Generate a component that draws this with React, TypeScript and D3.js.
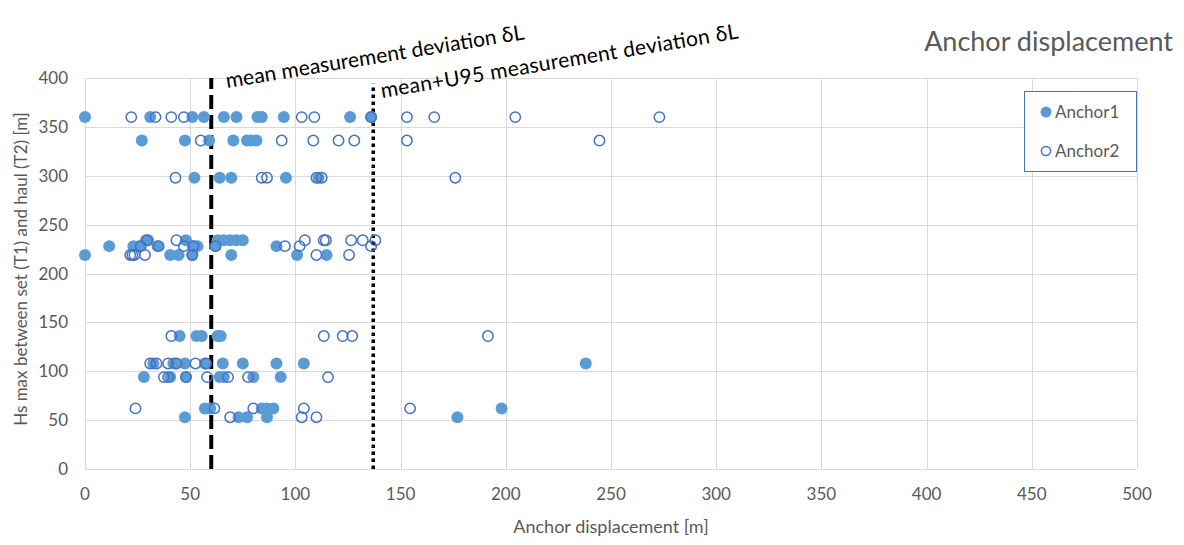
import React, { useEffect, useRef } from 'react';
import * as d3 from 'd3';

// [displacement, Hs max] pairs
const anchor1: [number, number][] = [
  [0, 360], [31, 360], [51, 360], [56.5, 360], [66, 360], [72, 360], [82, 360], [84, 360], [94.5, 360], [126, 360], [136, 360],
  [27, 336], [47.5, 336], [59, 336], [70.5, 336], [77, 336], [79, 336], [81.5, 336],
  [52, 298], [64, 298], [69.5, 298], [95.5, 298], [111, 298],
  [29, 234], [30, 234], [48, 234], [63, 234], [66, 234], [69, 234], [72, 234], [75, 234],
  [11.5, 228], [23, 228], [26, 228], [34.5, 228], [51.5, 228], [53.5, 228], [62, 228], [91, 228],
  [0, 219], [40.5, 219], [44.5, 219], [51, 219], [69.5, 219], [100.8, 219], [114.8, 219],
  [45, 136], [53, 136], [55.5, 136], [63, 136], [64.5, 136],
  [32.5, 108], [42, 108], [43, 108], [47.5, 108], [57, 108], [65.5, 108], [75, 108], [91, 108], [104, 108], [238, 108],
  [28, 94], [40.5, 94], [48, 94], [64, 94], [66, 94], [80, 94], [93, 94],
  [57, 62], [59.5, 62], [84, 62], [86.5, 62], [89.5, 62], [198, 62],
  [47.5, 53], [73, 53], [77, 53], [86.5, 53], [177, 53],
];

const anchor2: [number, number][] = [
  [22, 360], [33.5, 360], [41, 360], [47, 360], [103, 360], [109, 360], [136, 360], [153, 360], [166, 360], [204.5, 360], [273, 360],
  [55, 336], [93.5, 336], [108.5, 336], [120.5, 336], [128, 336], [153, 336], [244.5, 336],
  [43, 298], [84, 298], [86.5, 298], [110, 298], [112.5, 298], [176, 298],
  [29.5, 234], [43.5, 234], [104.5, 234], [113.5, 234], [114.5, 234], [126.5, 234], [132, 234], [138, 234],
  [26.5, 228], [35, 228], [47, 228], [51.5, 228], [62, 228], [95, 228], [102, 228], [136, 228],
  [21.5, 219], [22.5, 219], [23.5, 219], [28.5, 219], [51, 219], [110, 219], [125.5, 219],
  [41, 136], [113.5, 136], [122.5, 136], [127, 136], [191.5, 136],
  [31, 108], [34, 108], [39.5, 108], [43.5, 108], [52.5, 108], [57.5, 108],
  [37.5, 94], [39.5, 94], [48, 94], [58, 94], [68, 94], [77.5, 94], [115.5, 94],
  [24, 62], [61.5, 62], [80, 62], [104, 62], [154.5, 62],
  [69, 53], [103, 53], [110, 53],
];

const xTicks = [0, 50, 100, 150, 200, 250, 300, 350, 400, 450, 500];
const yTicks = [0, 50, 100, 150, 200, 250, 300, 350, 400];

const meanDev = 60;
const meanU95Dev = 137;

const W = 1184;
const H = 545;
const FONT = 'Lato, "Open Sans", sans-serif';
const GREY = '#595959';

export default function App() {
  const ref = useRef<SVGSVGElement>(null);

  useEffect(() => {
    document.body.style.margin = '0';
    if (!ref.current) return;
    const svg = d3.select(ref.current);
    svg.selectAll('*').remove();

    const x = d3.scaleLinear().domain([0, 500]).range([85, 1137]);
    const y = d3.scaleLinear().domain([0, 400]).range([469, 78]);

    // grid
    svg.append('g').selectAll('line').data(yTicks).enter().append('line')
      .attr('x1', x(0)).attr('x2', x(500))
      .attr('y1', d => Math.round(y(d)) + 0.5).attr('y2', d => Math.round(y(d)) + 0.5)
      .attr('stroke', '#D9D9D9').attr('stroke-width', 1);
    svg.append('g').selectAll('line').data(xTicks).enter().append('line')
      .attr('y1', y(0)).attr('y2', y(400))
      .attr('x1', d => Math.round(x(d)) + 0.5).attr('x2', d => Math.round(x(d)) + 0.5)
      .attr('stroke', '#D9D9D9').attr('stroke-width', 1);

    // tick labels
    svg.append('g').selectAll('text').data(xTicks).enter().append('text')
      .attr('x', d => x(d)).attr('y', 500)
      .attr('text-anchor', 'middle')
      .style('font-family', FONT).style('font-size', '17px').style('fill', GREY)
      .text(d => d);
    svg.append('g').selectAll('text').data(yTicks).enter().append('text')
      .attr('x', 68).attr('y', d => y(d) + 6)
      .attr('text-anchor', 'end')
      .style('font-family', FONT).style('font-size', '17px').style('fill', GREY)
      .text(d => d);

    // axis titles
    svg.append('text')
      .attr('x', 611).attr('y', 533).attr('text-anchor', 'middle')
      .style('font-family', FONT).style('font-size', '18px').style('fill', GREY)
      .text('Anchor displacement [m]');
    svg.append('text')
      .attr('transform', `translate(27,269) rotate(-90)`).attr('text-anchor', 'middle')
      .style('font-family', FONT).style('font-size', '17px').style('fill', GREY)
      .text('Hs max between set (T1) and haul (T2) [m]');

    // chart title
    svg.append('text')
      .attr('x', 1173).attr('y', 51).attr('text-anchor', 'end')
      .style('font-family', FONT).style('font-size', '27px').style('fill', GREY)
      .text('Anchor displacement');

    // reference lines
    svg.append('line')
      .attr('x1', x(meanDev)).attr('x2', x(meanDev)).attr('y1', y(0)).attr('y2', y(400))
      .attr('stroke', '#000').attr('stroke-width', 4).attr('stroke-dasharray', '14,6');
    svg.append('line')
      .attr('x1', x(meanU95Dev)).attr('x2', x(meanU95Dev)).attr('y1', y(0)).attr('y2', y(394))
      .attr('stroke', '#000').attr('stroke-width', 3.5).attr('stroke-dasharray', '3.5,3.5');

    // markers
    svg.append('g').selectAll('circle').data(anchor1).enter().append('circle')
      .attr('cx', d => x(d[0])).attr('cy', d => y(d[1])).attr('r', 6)
      .attr('fill', '#5B9BD5');
    svg.append('g').selectAll('circle').data(anchor2).enter().append('circle')
      .attr('cx', d => x(d[0])).attr('cy', d => y(d[1])).attr('r', 5.2)
      .attr('fill', 'none').attr('stroke', '#4472C4').attr('stroke-width', 1.5);

    // rotated labels
    svg.append('text')
      .attr('transform', `translate(227,88) rotate(-9.3)`)
      .attr('textLength', 302)
      .style('font-family', FONT).style('font-size', '21px').style('fill', '#000')
      .text('mean measurement deviation δL');
    svg.append('text')
      .attr('transform', `translate(382,98) rotate(-9.5)`)
      .attr('textLength', 362)
      .style('font-family', FONT).style('font-size', '21px').style('fill', '#000')
      .text('mean+U95 measurement deviation δL');

    // legend
    const lg = svg.append('g');
    lg.append('rect')
      .attr('x', 1024.5).attr('y', 91.5).attr('width', 112).attr('height', 80)
      .attr('fill', '#fff').attr('stroke', '#4472C4').attr('stroke-width', 1);
    lg.append('circle').attr('cx', 1046).attr('cy', 112).attr('r', 5.5).attr('fill', '#5B9BD5');
    lg.append('circle').attr('cx', 1046).attr('cy', 151).attr('r', 4.6)
      .attr('fill', 'none').attr('stroke', '#4472C4').attr('stroke-width', 1.5);
    lg.append('text').attr('x', 1055).attr('y', 118)
      .style('font-family', FONT).style('font-size', '17px').style('fill', GREY).text('Anchor1');
    lg.append('text').attr('x', 1055).attr('y', 157)
      .style('font-family', FONT).style('font-size', '17px').style('fill', GREY).text('Anchor2');
  }, []);

  return <svg ref={ref} width={W} height={H} style={{ display: 'block', background: '#fff' }} />;
}
